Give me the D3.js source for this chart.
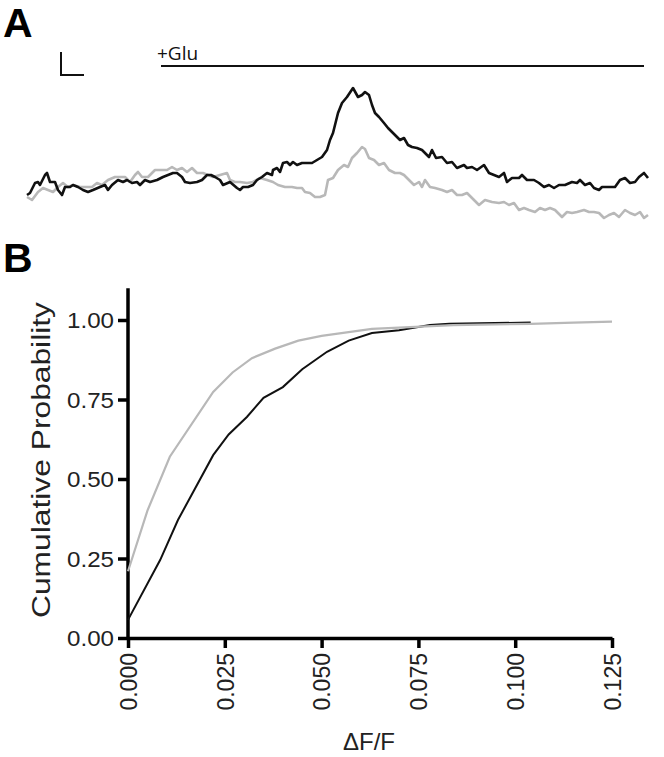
<!DOCTYPE html>
<html><head><meta charset="utf-8">
<script src="https://cdn.jsdelivr.net/npm/d3@7"></script>
<style>body{margin:0;background:#fff}svg{display:block}</style>
</head><body>
<svg id="c" width="664" height="757"></svg>
<script>
// ---------- Panel A: fluorescence traces (time in s, value in ΔF/F units) ----------
const blackT = [0.2,0.8,1.8,2.4,2.8,3.8,4.2,4.8,5.8,6.4,7.2,7.8,8.8,9.4,10.4,11.4,12.4,13.4,14.8,15.8,16.4,17.2,18.4,19.4,20.2,21.2,22.2,22.8,23.8,24.8,26.2,27.4,28.4,29.4,30.2,31.2,31.8,32.8,34.2,35.2,36.2,37.0,37.8,38.8,39.4,40.8,42.2,42.8,43.4,44.4,45.4,46.2,47.2,48.2,49.2,49.4,50.2,50.8,51.4,52.2,52.8,53.4,54.2,55.2,56.2,57.2,58.2,59.2,60.2,60.8,61.4,62.4,63.2,64.2,65.4,66.4,67.2,67.8,68.6,69.2,69.8,70.6,71.6,72.4,73.2,74.0,74.8,75.6,76.4,77.2,78.2,79.2,79.8,80.6,81.2,82.0,83.2,84.2,85.2,86.2,87.6,88.2,89.2,90.2,91.6,92.6,93.6,94.6,95.6,96.2,97.2,98.6,99.2,100.2,101.6,102.6,103.6,104.6,105.6,106.6,107.8,109.2,110.2,110.8,111.8,112.8,113.6,114.6,115.2,116.6,117.8,118.8,119.8,120.8,121.8,122.6,123.6,124.4];
const blackV = [0.05,0.07,0.17,0.18,0.15,0.25,0.27,0.18,0.18,0.10,0.05,0.13,0.13,0.15,0.13,0.10,0.08,0.10,0.13,0.15,0.10,0.15,0.20,0.18,0.20,0.17,0.18,0.15,0.20,0.18,0.20,0.23,0.25,0.27,0.27,0.23,0.18,0.17,0.18,0.20,0.25,0.25,0.23,0.20,0.15,0.18,0.12,0.10,0.13,0.13,0.15,0.20,0.23,0.27,0.25,0.30,0.32,0.28,0.37,0.38,0.35,0.38,0.35,0.37,0.37,0.37,0.40,0.43,0.50,0.60,0.67,0.87,0.97,1.03,1.12,1.03,1.05,1.08,1.05,0.95,0.87,0.83,0.77,0.72,0.68,0.64,0.60,0.62,0.55,0.53,0.52,0.50,0.47,0.43,0.50,0.42,0.43,0.37,0.38,0.32,0.35,0.32,0.33,0.30,0.35,0.27,0.25,0.23,0.27,0.18,0.22,0.22,0.25,0.20,0.20,0.17,0.13,0.15,0.12,0.15,0.15,0.18,0.17,0.20,0.15,0.17,0.12,0.10,0.13,0.13,0.13,0.20,0.22,0.17,0.18,0.23,0.27,0.22];
const grayT = [0.2,1.2,2.4,3.4,4.4,5.4,6.4,7.4,8.4,9.4,10.8,12.2,13.2,14.2,15.2,16.4,17.8,18.8,19.8,20.8,21.8,22.4,23.2,24.4,25.8,26.8,28.2,29.2,30.2,31.2,32.2,33.2,34.2,35.4,36.4,37.4,38.8,40.2,40.8,41.8,42.8,44.2,45.4,46.8,48.2,49.4,50.4,51.8,53.2,54.2,55.2,55.8,56.8,57.8,58.8,59.8,60.4,61.4,62.4,63.6,64.4,65.2,66.2,67.2,67.8,68.6,69.6,70.6,71.6,72.6,73.8,74.8,75.6,76.6,77.6,78.6,79.2,79.8,80.8,81.8,83.2,84.2,85.2,86.2,87.2,88.2,89.2,90.6,91.8,93.2,94.6,95.6,96.6,97.6,98.6,99.6,100.6,101.8,102.8,103.8,104.8,105.8,107.2,108.2,109.2,110.2,111.6,112.6,113.6,114.6,115.6,116.6,117.6,118.6,119.8,120.8,121.8,122.8,123.6,124.4];
const grayV = [0.03,0.00,0.08,0.12,0.10,0.08,0.13,0.17,0.13,0.15,0.13,0.13,0.13,0.17,0.15,0.20,0.23,0.23,0.23,0.18,0.25,0.28,0.23,0.23,0.30,0.30,0.30,0.33,0.30,0.32,0.28,0.32,0.27,0.27,0.25,0.23,0.25,0.27,0.20,0.18,0.18,0.17,0.18,0.22,0.20,0.18,0.15,0.13,0.13,0.12,0.12,0.08,0.07,0.03,0.03,0.05,0.20,0.22,0.30,0.35,0.33,0.42,0.47,0.53,0.51,0.42,0.40,0.35,0.37,0.30,0.27,0.27,0.25,0.20,0.15,0.18,0.13,0.20,0.13,0.12,0.10,0.08,0.10,0.05,0.05,0.07,0.02,-0.05,0.00,-0.02,-0.03,-0.02,-0.05,-0.03,-0.10,-0.08,-0.10,-0.12,-0.08,-0.10,-0.08,-0.10,-0.17,-0.12,-0.13,-0.12,-0.10,-0.12,-0.12,-0.13,-0.18,-0.15,-0.13,-0.17,-0.10,-0.13,-0.15,-0.12,-0.18,-0.15];
const gluLabel = "+Glu";
const gluStart = 27, gluEnd = 123.6;          // glutamate application (s)
const scaleBarT = 4.6, scaleBarV = 0.23;      // scale bar size (s, ΔF/F)

// ---------- Panel B: cumulative distributions ----------
const cdfBlackX = [0,0.0083,0.0129,0.022,0.026,0.0307,0.035,0.040,0.045,0.0514,0.057,0.063,0.070,0.078,0.083,0.104];
const cdfBlackY = [0.057,0.245,0.371,0.575,0.64,0.695,0.755,0.789,0.845,0.90,0.935,0.959,0.968,0.984,0.988,0.992];
const cdfGrayX  = [0,0.005,0.0108,0.022,0.027,0.032,0.038,0.044,0.05,0.063,0.084,0.104,0.115,0.125];
const cdfGrayY  = [0.21,0.40,0.57,0.774,0.835,0.88,0.91,0.935,0.95,0.972,0.984,0.988,0.992,0.995];
const xTicks = [0,0.025,0.05,0.075,0.1,0.125];
const yTicks = [0,0.25,0.5,0.75,1.0];
const xTitle = "ΔF/F", yTitle = "Cumulative Probability";

const BLACK = "#111", GRAY = "#b8b8b8", TEXT = "#222";
const svg = d3.select("#c");

// Panel labels
svg.append("text").attr("x",3).attr("y",37).text("A")
  .attr("font-family","Liberation Sans, Arial").attr("font-weight","bold").attr("font-size",41).attr("fill","#000");
svg.append("text").attr("x",3).attr("y",272).text("B")
  .attr("font-family","Liberation Sans, Arial").attr("font-weight","bold").attr("font-size",41).attr("fill","#000");

// ---- Panel A ----
const tx = d3.scaleLinear().domain([0,124.4]).range([26,648]);
const ty = d3.scaleLinear().domain([0,1]).range([200,100]);
const lineA = d3.line().x(d=>tx(d[0])).y(d=>ty(d[1]));
const grayData = grayT.map((t,i)=>[t,grayV[i]]);
const blackData = blackT.map((t,i)=>[t,blackV[i]]);
svg.append("path").datum(grayData).attr("d",lineA).attr("fill","none")
  .attr("stroke",GRAY).attr("stroke-width",2.6).attr("stroke-linejoin","round");
svg.append("path").datum(blackData).attr("d",lineA).attr("fill","none")
  .attr("stroke",BLACK).attr("stroke-width",2.6).attr("stroke-linejoin","round");

// glutamate bar
const gluV = 1.34;
svg.append("line").attr("x1",tx(gluStart)).attr("x2",tx(gluEnd)).attr("y1",ty(gluV)).attr("y2",ty(gluV))
  .attr("stroke",BLACK).attr("stroke-width",2.2);
svg.append("text").attr("x",tx(gluStart)-4).attr("y",ty(gluV)-6).text(gluLabel)
  .attr("font-family","Open Sans, DejaVu Sans").attr("font-size",19).attr("fill","#111");

// scale bar
const sb0t = 7, sb0v = 1.25;
svg.append("path")
  .attr("d",`M${tx(sb0t)},${ty(sb0v+scaleBarV)}L${tx(sb0t)},${ty(sb0v)}L${tx(sb0t+scaleBarT)},${ty(sb0v)}`)
  .attr("fill","none").attr("stroke",BLACK).attr("stroke-width",2);

// ---- Panel B ----
const x = d3.scaleLinear().domain([0,0.125]).range([128,612]);
const y = d3.scaleLinear().domain([0,1]).range([638,320]);
const yTop = 1.1;

const gX = svg.append("g").attr("transform",`translate(0,${y(0)})`)
  .call(d3.axisBottom(x).tickValues(xTicks).tickFormat(d3.format(".3f")).tickSize(10).tickSizeOuter(0));
gX.select(".domain").attr("stroke","#000").attr("stroke-width",3.5);
gX.selectAll(".tick line").attr("stroke","#000").attr("stroke-width",3.5);
gX.selectAll(".tick text").attr("transform","rotate(-90)").attr("x",-15).attr("y",0).attr("dy","0.36em")
  .style("text-anchor","end").attr("font-family","Liberation Sans, Arial").attr("font-size",23).attr("fill",TEXT);

const gY = svg.append("g").attr("transform",`translate(${x(0)},0)`)
  .call(d3.axisLeft(y).tickValues(yTicks).tickFormat(d3.format(".2f")).tickSize(10).tickSizeOuter(0));
gY.select(".domain").attr("d",`M0,${y(0)+1.5}V${y(yTop)}`).attr("stroke","#000").attr("stroke-width",3.5);
gY.selectAll(".tick line").attr("stroke","#000").attr("stroke-width",3.5);
gY.selectAll(".tick text").attr("x",-14).attr("dy","0.36em")
  .attr("font-family","Liberation Sans, Arial").attr("font-size",22).attr("fill",TEXT)
  .attr("textLength",47).attr("lengthAdjust","spacingAndGlyphs");

const lineB = d3.line().x(d=>x(d[0])).y(d=>y(d[1]));
svg.append("path").datum(cdfBlackX.map((v,i)=>[v,cdfBlackY[i]])).attr("d",lineB)
  .attr("fill","none").attr("stroke",BLACK).attr("stroke-width",2);
svg.append("path").datum(cdfGrayX.map((v,i)=>[v,cdfGrayY[i]])).attr("d",lineB)
  .attr("fill","none").attr("stroke",GRAY).attr("stroke-width",2.2);

svg.append("text").attr("transform",`translate(50,${y(0.5)-19}) rotate(-90)`).attr("text-anchor","middle")
  .text(yTitle).attr("font-family","Liberation Sans, Arial").attr("font-size",25).attr("fill",TEXT)
  .attr("textLength",316).attr("lengthAdjust","spacingAndGlyphs");
svg.append("text").attr("x",369).attr("y",750).attr("text-anchor","middle").text(xTitle)
  .attr("font-family","Liberation Sans, Arial").attr("font-size",24).attr("fill",TEXT);
</script>
</body></html>
